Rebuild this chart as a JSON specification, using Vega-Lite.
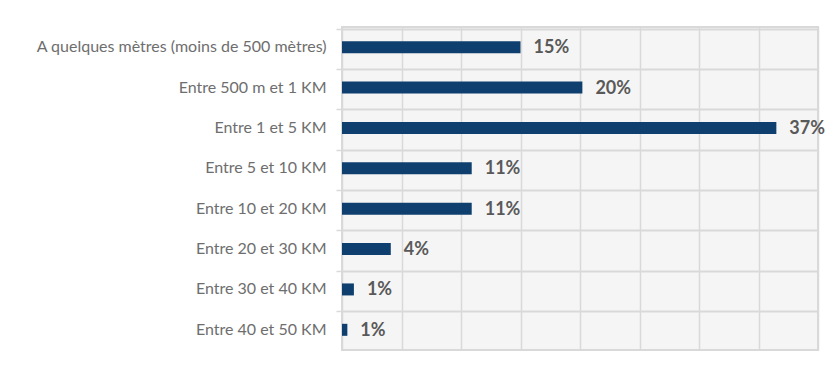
{
  "$schema": "https://vega.github.io/schema/vega-lite/v6.json",
  "autosize": "none",
  "width": 476,
  "height": 323,
  "padding": {"left": 342, "top": 27, "right": 14, "bottom": 20},
  "background": "white",
  "config": {
    "view": {"fill": "#f5f5f5", "stroke": "#d9d9d9", "strokeWidth": 2},
    "font": "Lato"
  },
  "data": {
    "values": [
      {"cat": "A quelques mètres (moins de 500 mètres)", "v": 15.0, "label": "15%"},
      {"cat": "Entre 500 m et 1 KM", "v": 20.2, "label": "20%"},
      {"cat": "Entre 1 et 5 KM", "v": 36.5, "label": "37%"},
      {"cat": "Entre 5 et 10 KM", "v": 10.9, "label": "11%"},
      {"cat": "Entre 10 et 20 KM", "v": 10.9, "label": "11%"},
      {"cat": "Entre 20 et 30 KM", "v": 4.1, "label": "4%"},
      {"cat": "Entre 30 et 40 KM", "v": 1.0, "label": "1%"},
      {"cat": "Entre 40 et 50 KM", "v": 0.45, "label": "1%"}
    ]
  },
  "encoding": {
    "y": {
      "field": "cat", "type": "nominal", "sort": null, "title": null,
      "axis": {
        "domain": false, "bandPosition": 0, "grid": true, "gridColor": "#d9d9d9", "gridWidth": 2,
        "ticks": true, "tickColor": "#d9d9d9", "tickSize": 6, "tickWidth": 1.5,
        "labelFont": "Lato", "labelFontSize": 16, "labelColor": "#6e6e6e", "labelPadding": 10, "labelLimit": 400
      }
    },
    "x": {
      "field": "v", "type": "quantitative", "title": null,
      "scale": {"domain": [0, 40], "nice": false},
      "axis": {
        "values": [0, 5, 10, 15, 20, 25, 30, 35, 40], "labels": false, "ticks": false, "domain": false,
        "grid": true, "gridColor": "#d9d9d9", "gridWidth": 1.5
      }
    }
  },
  "layer": [
    {"mark": {"type": "bar", "color": "#0e3f6e", "size": 12}},
    {
      "mark": {"type": "text", "align": "left", "baseline": "middle", "dx": 13, "dy": 1, "fontSize": 18, "fontWeight": "bold", "color": "#595959", "font": "Lato"},
      "encoding": {"text": {"field": "label"}}
    }
  ]
}
